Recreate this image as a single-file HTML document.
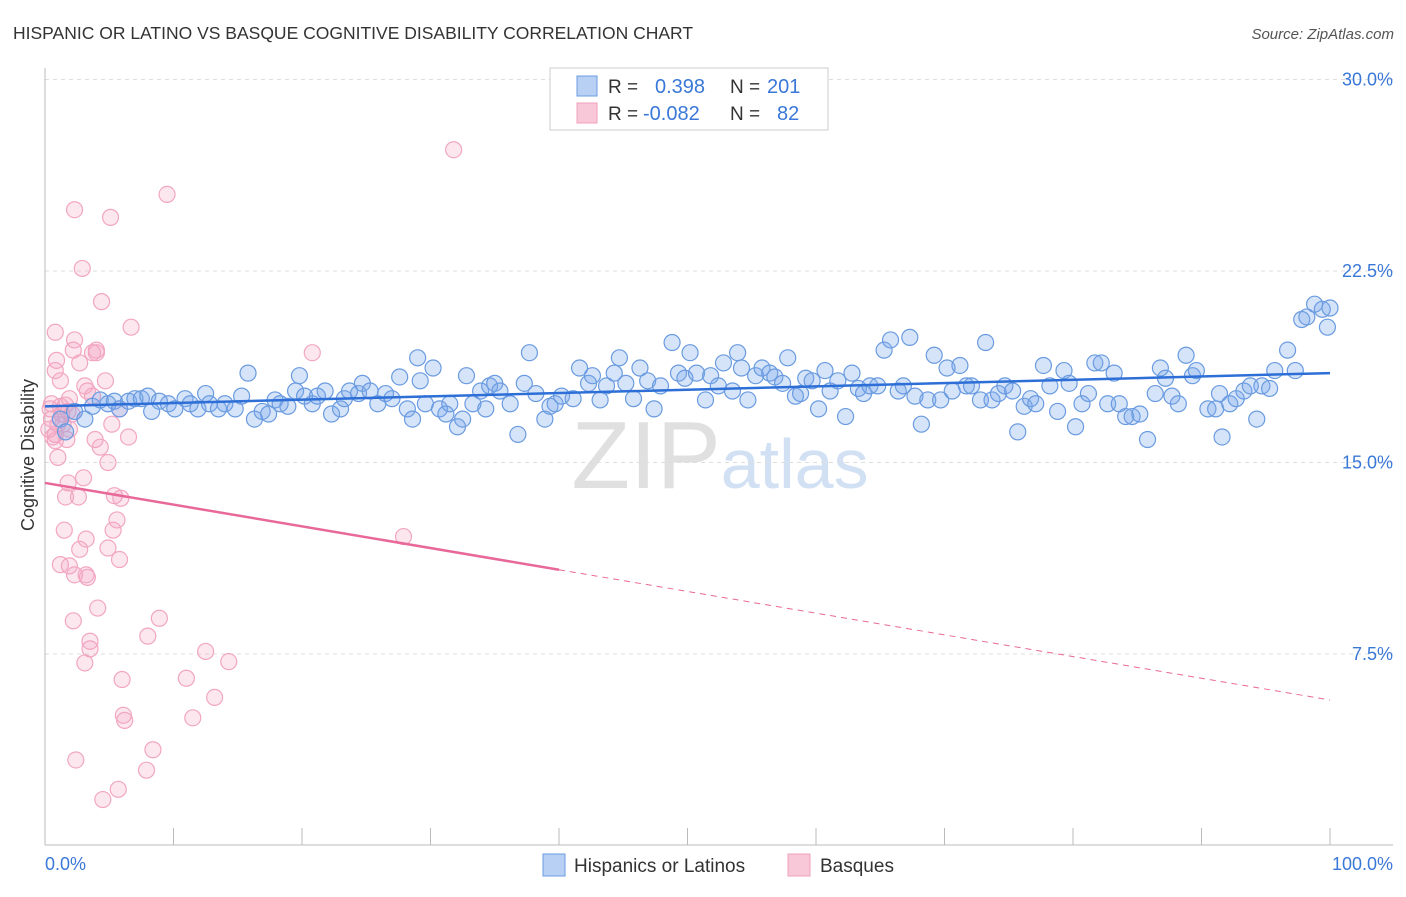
<!DOCTYPE html>
<html><head><meta charset="utf-8">
<style>
body{margin:0;background:#fff;font-family:"Liberation Sans",sans-serif;}
svg text{font-family:"Liberation Sans",sans-serif;}
</style></head>
<body>
<svg id="chart" width="1406" height="892" viewBox="0 0 1406 892" xmlns="http://www.w3.org/2000/svg">
<text x="13" y="39" font-size="17.5" fill="#333">HISPANIC OR LATINO VS BASQUE COGNITIVE DISABILITY CORRELATION CHART</text>
<text x="1394" y="39" font-size="15" fill="#555" font-style="italic" text-anchor="end">Source: ZipAtlas.com</text>
<text x="720" y="488" font-size="96" text-anchor="middle" fill="#e2e2e2" font-family="Liberation Serif"><tspan fill="#e0e0e0">ZIP</tspan><tspan fill="#d2e0f4" font-family="Liberation Sans" font-size="70">atlas</tspan></text>
<text transform="translate(34,455) rotate(-90)" font-size="18" fill="#333" text-anchor="middle">Cognitive Disability</text>
<g id="grid"></g>
<g id="axes"></g>
<g id="pts"></g>
<g id="trends"></g>
<g>
<rect x="550" y="68" width="278" height="62" fill="#fff" stroke="#ccc"/>
<rect x="577" y="76" width="20" height="20" fill="#b8d0f4" stroke="#6a9be0"/>
<text x="608" y="93" font-size="19" fill="#333">R =</text>
<text x="655" y="93" font-size="20" fill="#3a78d8">0.398</text>
<text x="730" y="93" font-size="19" fill="#333">N =</text>
<text x="767" y="93" font-size="20" fill="#3a78d8">201</text>
<rect x="577" y="103" width="20" height="20" fill="#f8c8d8" stroke="#f0a0bb"/>
<text x="608" y="120" font-size="19" fill="#333">R =</text>
<text x="643" y="120" font-size="20" fill="#3a78d8">-0.082</text>
<text x="730" y="120" font-size="19" fill="#333">N =</text>
<text x="777" y="120" font-size="20" fill="#3a78d8">82</text>
</g>
<g>
<rect x="543" y="854" width="22" height="22" fill="#b8d0f4" stroke="#6a9be0"/>
<text x="574" y="872" font-size="19" fill="#333">Hispanics or Latinos</text>
<rect x="788" y="854" width="22" height="22" fill="#f8c8d8" stroke="#f0a0bb"/>
<text x="820" y="872" font-size="19" fill="#333">Basques</text>
</g>
</svg>
<script>
const yTicks=[7.5,15,22.5,30];
const yTickLabels=["7.5%","15.0%","22.5%","30.0%"];
const xTickVals=[0,10,20,30,40,50,60,70,80,90,100];
const blueX=[1.2,1.6,2.3,3.1,3.7,4.3,4.9,5.4,5.8,6.5,7.0,7.5,8.0,8.3,8.9,9.6,10.1,10.9,11.3,11.9,12.5,12.8,13.5,14.0,14.8,15.3,15.8,16.3,16.9,17.4,17.9,18.3,18.9,19.5,19.8,20.2,20.8,21.2,21.8,22.3,23.0,23.3,23.7,24.4,24.7,25.3,25.9,26.5,27.0,27.6,28.2,28.6,29.0,29.2,29.6,30.2,30.7,31.2,31.5,32.1,32.5,32.8,33.3,33.9,34.3,34.6,35.0,35.4,36.2,36.8,37.3,37.7,38.2,38.9,39.3,39.7,40.2,41.1,41.6,42.3,42.6,43.2,43.7,44.3,44.7,45.2,45.8,46.3,46.9,47.4,47.9,48.8,49.3,49.8,50.2,50.7,51.4,51.8,52.4,52.8,53.5,53.9,54.2,54.7,55.3,55.8,56.4,56.8,57.4,57.8,58.4,58.8,59.2,59.7,60.2,60.7,61.1,61.7,62.3,62.8,63.3,63.7,64.2,64.8,65.3,65.8,66.4,66.8,67.3,67.7,68.2,68.7,69.2,69.7,70.2,70.6,71.2,71.7,72.1,72.8,73.2,73.7,74.2,74.7,75.3,75.7,76.2,76.7,77.1,77.7,78.2,78.8,79.3,79.7,80.2,80.7,81.2,81.7,82.2,82.7,83.2,83.6,84.1,84.6,85.2,85.8,86.4,86.8,87.2,87.7,88.2,88.8,89.3,89.6,90.5,91.1,91.4,91.6,92.2,92.7,93.3,93.8,94.3,94.7,95.3,95.7,96.7,97.3,97.8,98.2,98.8,99.4,99.8,100];
const blueY=[16.7,16.2,17.0,16.7,17.2,17.45,17.3,17.4,17.1,17.4,17.5,17.5,17.6,17.0,17.4,17.3,17.1,17.5,17.3,17.1,17.7,17.3,17.1,17.3,17.1,17.6,18.5,16.7,17.0,16.9,17.45,17.3,17.2,17.8,18.4,17.6,17.3,17.6,17.8,16.9,17.1,17.5,17.8,17.7,18.1,17.8,17.3,17.7,17.5,18.35,17.1,16.7,19.1,18.2,17.3,18.7,17.1,16.9,17.3,16.4,16.7,18.4,17.3,17.8,17.1,18.0,18.1,17.8,17.3,16.1,18.1,19.3,17.7,16.7,17.2,17.3,17.6,17.5,18.7,18.1,18.4,17.45,18.0,18.5,19.1,18.1,17.5,18.7,18.2,17.1,18.0,19.7,18.5,18.3,19.3,18.5,17.45,18.4,18.0,18.9,17.8,19.3,18.7,17.45,18.4,18.7,18.5,18.35,18.1,19.1,17.6,17.7,18.3,18.2,17.1,18.6,17.8,18.2,16.8,18.5,17.9,17.7,18.0,18.0,19.4,19.8,17.8,18.0,19.9,17.6,16.5,17.45,19.2,17.45,18.7,17.8,18.8,18.0,18.0,17.45,19.7,17.45,17.7,18.0,17.8,16.2,17.2,17.5,17.3,18.8,18.0,17.0,18.6,18.1,16.4,17.3,17.7,18.9,18.9,17.3,18.5,17.3,16.8,16.8,16.9,15.9,17.7,18.7,18.3,17.6,17.3,19.2,18.4,18.6,17.1,17.1,17.7,16.0,17.3,17.5,17.8,18.0,16.7,18.0,17.9,18.6,19.4,18.6,20.6,20.7,21.2,21.0,20.3,21.05];
const pinkX=[0.4,0.5,0.8,0.8,0.9,0.8,1.0,1.2,1.3,1.4,1.6,1.7,1.8,1.8,1.9,2.1,2.3,2.2,2.3,2.4,2.6,2.7,2.9,3.0,3.1,3.2,3.3,3.3,3.5,3.7,3.9,4.0,4.1,4.3,4.4,4.5,4.7,4.9,4.9,5.1,5.2,5.3,5.4,5.6,5.7,5.8,5.9,6.0,6.1,6.2,6.5,6.7,7.9,8.0,8.4,8.9,9.5,11.0,11.5,12.5,13.2,14.3,20.8,27.9,31.8,2.3,2.2,3.5,5.8,1.9,1.6,1.2,0.8,2.7,3.1,3.7,1.5,1.9,1.2,3.2,4.0,0.3,0.6,1.0,0.5];
const pinkY=[17.1,16.7,16.1,18.6,19.0,20.1,15.2,18.2,16.9,16.5,13.65,15.9,17.0,14.2,17.5,16.9,24.9,19.4,19.8,3.35,13.65,11.6,22.6,14.4,7.15,12.0,10.5,17.8,7.7,17.6,15.9,19.3,9.3,15.6,21.3,1.8,18.2,11.65,15.0,24.6,16.5,12.35,13.7,12.75,2.2,11.2,13.6,6.5,5.1,4.9,16.0,20.3,2.95,8.2,3.75,8.9,25.5,6.55,5.0,7.6,5.8,7.2,19.3,12.1,27.25,10.6,8.8,8.0,17.1,16.3,17.25,17.2,15.85,18.9,18.0,19.3,12.35,10.95,11.0,10.6,19.4,16.3,16.0,16.5,17.3];
const blueTrend=[17.2,18.5];   // value at x=0, x=100
const pinkTrend=[14.2,5.7];    // value at x=0, x=100
const pinkSolidEnd=40;

const X0=45,X1=1330,Y0=845.5,PXPER=191.5/7.5;
const sx=v=>X0+(X1-X0)*v/100;
const sy=v=>Y0-v*PXPER;
const NS="http://www.w3.org/2000/svg";
function mk(tag,parent,attrs){const e=document.createElementNS(NS,tag);for(const k in attrs)e.setAttribute(k,attrs[k]);parent.appendChild(e);return e;}
const grid=document.getElementById('grid'),axes=document.getElementById('axes'),pts=document.getElementById('pts'),tr=document.getElementById('trends');
yTicks.forEach((t,i)=>{
  const l=mk('line',grid,{x1:45,x2:1393,y1:sy(t),y2:sy(t),stroke:'#ddd','stroke-dasharray':'4,4'});
  
  
  const tx=mk('text',axes,{x:1393,y:sy(t)+6,'font-size':18,fill:'#3a78d8','text-anchor':'end'});
  tx.textContent=yTickLabels[i];
  
  
});
const xa=mk('line',axes,{x1:45,x2:1393,y1:845,y2:845,stroke:'#bbb'});


const ya=mk('line',axes,{x1:45,x2:45,y1:68,y2:845,stroke:'#bbb'});


xTickVals.forEach(v=>{
  const t=mk('line',axes,{x1:sx(v),x2:sx(v),y1:828,y2:845,stroke:'#bbb'});
  
  
});
const xl0=mk('text',axes,{x:45,y:870,'font-size':18,fill:'#3a78d8'});xl0.textContent='0.0%';


const xl1=mk('text',axes,{x:1393,y:870,'font-size':18,fill:'#3a78d8','text-anchor':'end'});xl1.textContent='100.0%';


pinkX.forEach((x,i)=>{
  const c=mk('circle',pts,{cx:sx(x),cy:sy(pinkY[i]),r:8,fill:'rgba(244,160,190,0.25)',stroke:'#f2a6c0','stroke-width':1.2});
  
  
});
blueX.forEach((x,i)=>{
  const c=mk('circle',pts,{cx:sx(x),cy:sy(blueY[i]),r:8,fill:'rgba(120,165,235,0.3)',stroke:'#6a9be0','stroke-width':1.2});
  
  
});
const bl=mk('line',tr,{x1:sx(0),y1:sy(blueTrend[0]),x2:sx(100),y2:sy(blueTrend[1]),stroke:'#2d6fd6','stroke-width':2.5});


const pv=x=>pinkTrend[0]+(pinkTrend[1]-pinkTrend[0])*x/100;
const pl=mk('line',tr,{x1:sx(0),y1:sy(pv(0)),x2:sx(pinkSolidEnd),y2:sy(pv(pinkSolidEnd)),stroke:'#e8689a','stroke-width':2.5});


const pd=mk('line',tr,{x1:sx(pinkSolidEnd),y1:sy(pv(pinkSolidEnd)),x2:sx(100),y2:sy(pv(100)),stroke:'#e8689a','stroke-width':1,'stroke-dasharray':'6,5'});


</script>
</body></html>
